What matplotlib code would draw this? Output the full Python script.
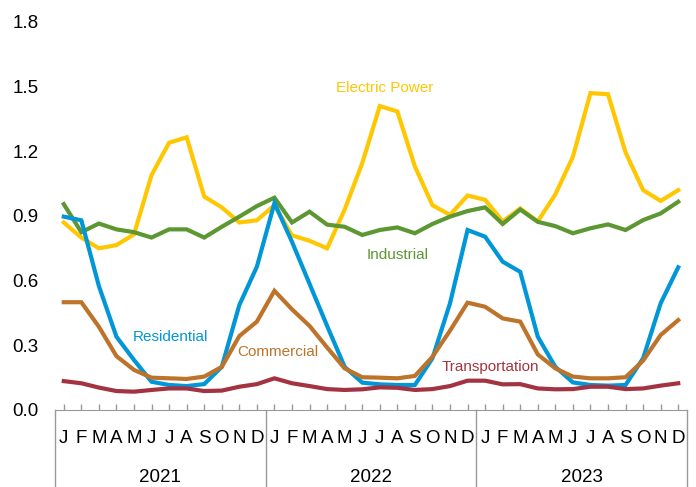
import numpy as np
import matplotlib
matplotlib.use("Agg")
import matplotlib.pyplot as plt
import matplotlib.transforms as mtransforms

plt.rcParams['font.family'] = ['Liberation Sans', 'DejaVu Sans']

# monthly values, Jan 2021 .. Dec 2023
MONTHS = ['J', 'F', 'M', 'A', 'M', 'J', 'J', 'A', 'S', 'O', 'N', 'D'] * 3
YEARS = ['2021', '2022', '2023']

electric_power = [0.87, 0.80, 0.75, 0.765, 0.815, 1.09, 1.24, 1.265, 0.99, 0.94, 0.87, 0.88,
                  0.95, 0.81, 0.785, 0.75, 0.93, 1.145, 1.41, 1.385, 1.13, 0.95, 0.905, 0.995,
                  0.975, 0.875, 0.935, 0.875, 1.00, 1.175, 1.47, 1.465, 1.195, 1.02, 0.97, 1.02]
industrial = [0.955, 0.825, 0.865, 0.838, 0.825, 0.80, 0.838, 0.838, 0.80, 0.85, 0.897, 0.946,
              0.985, 0.87, 0.92, 0.86, 0.85, 0.812, 0.835, 0.847, 0.82, 0.863, 0.897, 0.923,
              0.94, 0.863, 0.93, 0.873, 0.853, 0.82, 0.843, 0.861, 0.835, 0.881, 0.912, 0.966]
residential = [0.897, 0.88, 0.575, 0.34, 0.232, 0.131, 0.116, 0.111, 0.12, 0.20, 0.487, 0.665,
               0.96, 0.78, 0.585, 0.39, 0.20, 0.127, 0.119, 0.116, 0.116, 0.24, 0.495, 0.835,
               0.804, 0.688, 0.641, 0.34, 0.20, 0.128, 0.116, 0.113, 0.116, 0.24, 0.495, 0.662]
commercial = [0.50, 0.50, 0.386, 0.25, 0.186, 0.15, 0.147, 0.144, 0.155, 0.20, 0.343, 0.41,
              0.553, 0.467, 0.39, 0.29, 0.193, 0.152, 0.15, 0.147, 0.158, 0.247, 0.368, 0.498,
              0.479, 0.425, 0.41, 0.258, 0.193, 0.155, 0.147, 0.147, 0.152, 0.229, 0.348, 0.417]
transportation = [0.134, 0.124, 0.104, 0.088, 0.085, 0.093, 0.10, 0.10, 0.088, 0.09, 0.108, 0.12,
                  0.147, 0.124, 0.111, 0.097, 0.093, 0.096, 0.105, 0.103, 0.093, 0.097, 0.111, 0.136,
                  0.136, 0.119, 0.12, 0.10, 0.096, 0.097, 0.108, 0.108, 0.097, 0.10, 0.113, 0.124]

# name, values, color, label position (month index, value)
series = [
    ('Electric Power', electric_power, '#ffc702', (18.3, 1.494)),
    ('Industrial', industrial, '#5d9732', (19.0, 0.72)),
    ('Residential', residential, '#0096d7', (6.1, 0.34)),
    ('Commercial', commercial, '#bd732a', (12.2, 0.268)),
    ('Transportation', transportation, '#a33340', (24.3, 0.20)),
]

fig = plt.figure(figsize=(6.96, 4.87), dpi=100)
ax = fig.add_axes([55 / 696, 1 - 410 / 487, 632 / 696, 388 / 487])

x = np.arange(len(MONTHS))
for name, vals, col, (lx, ly) in series:
    ax.plot(x, vals, color=col, lw=3, solid_joinstyle='miter', zorder=3)
    ax.text(lx, ly, name, color=col, fontsize=11, ha='center', va='center')

ax.set_xlim(-0.5, 35.5)
ax.set_ylim(0, 1.8)
ax.set_yticks(np.arange(0, 1.81, 0.3))
ax.set_yticklabels(['%.1f' % v for v in np.arange(0, 1.81, 0.3)])
ax.tick_params(axis='y', length=0, pad=12, labelsize=13.5)

ax.set_xticks(x)
ax.set_xticklabels([])
ax.tick_params(axis='x', direction='in', length=4, width=1, color='#999999')

for s in ['top', 'right', 'left']:
    ax.spines[s].set_visible(False)
ax.spines['bottom'].set_color('#999999')

# month / year labels and separator box under the axis
trans = mtransforms.blended_transform_factory(ax.transData, ax.transAxes)
for i, m in enumerate(MONTHS):
    ax.text(i, -0.086, m, transform=trans, ha='center', va='baseline', fontsize=13.5)
for k, yr in enumerate(YEARS):
    ax.text(12 * k + 5.5, -0.186, yr, transform=trans, ha='center', va='baseline', fontsize=13.5)
for xb in [-0.5, 11.5, 23.5, 35.5]:
    ax.plot([xb, xb], [0, -0.25], transform=trans, color='#999999', lw=1, clip_on=False)

fig.savefig('out.png', dpi=100)
